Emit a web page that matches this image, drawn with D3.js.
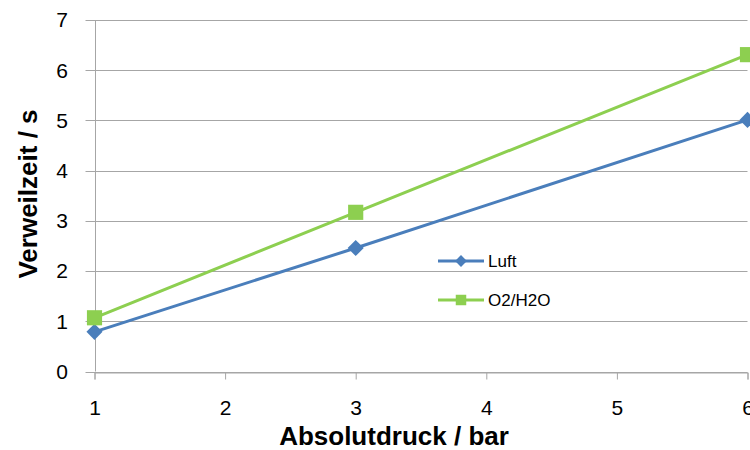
<!DOCTYPE html>
<html>
<head>
<meta charset="utf-8">
<script src="https://cdn.jsdelivr.net/npm/d3@7"></script>
<style>
  body { margin: 0; background: #fff; }
  text { font-family: 'Liberation Sans', Arial, sans-serif; fill: #000; }
</style>
</head>
<body>
<div id="chart"></div>
<script>
const pressure = [1, 3, 6]
const luft = [0.79, 2.46, 5.01]
const o2h2o = [1.07, 3.17, 6.31]
const xTicks = [1, 2, 3, 4, 5, 6]
const yTicks = [0, 1, 2, 3, 4, 5, 6, 7]

const width = 750
const height = 450
const margin = { top: 20, right: 2, bottom: 76, left: 95 }

const svg = d3.select('#chart')
  .append('svg')
  .attr('width', width)
  .attr('height', height)

const x = d3.scaleLinear().domain([1, 6]).range([margin.left - 0.5, width - margin.right - 0.5])
const y = d3.scaleLinear().domain([0, 7]).range([height - margin.bottom - 2.5, margin.top])

// Gitterlinien
svg.append('g')
  .selectAll('line')
  .data(yTicks)
  .join('line')
  .attr('x1', x(1) - 9)
  .attr('x2', x(6))
  .attr('y1', d => Math.round(y(d)) + 0.5)
  .attr('y2', d => Math.round(y(d)) + 0.5)
  .attr('stroke', '#a6a6a6')
  .attr('stroke-width', 1)

// y-Achse
svg.append('line')
  .attr('x1', Math.round(x(1)) + 0.5)
  .attr('x2', Math.round(x(1)) + 0.5)
  .attr('y1', y(7))
  .attr('y2', y(0))
  .attr('stroke', '#a6a6a6')

// x-Achse mit Ticks
const xAxis = svg.append('g')
  .attr('transform', `translate(0,${Math.round(y(0)) + 0.5})`)
  .call(d3.axisBottom(x).tickValues(xTicks).tickFormat(d3.format('d')).tickSize(7).tickPadding(21))
xAxis.select('.domain').attr('stroke', '#a6a6a6')
xAxis.selectAll('.tick line').attr('stroke', '#a6a6a6')
xAxis.selectAll('.tick text').attr('font-size', 21).attr('fill', '#000')
  .style('font-family', "'Liberation Sans', Arial, sans-serif")

// y-Beschriftung
svg.append('g')
  .selectAll('text')
  .data(yTicks)
  .join('text')
  .attr('x', 68)
  .attr('y', d => y(d))
  .attr('dy', '0.35em')
  .attr('text-anchor', 'end')
  .attr('font-size', 21)
  .text(d => d)

// Achsentitel
svg.append('text')
  .attr('x', 394)
  .attr('y', 445)
  .attr('text-anchor', 'middle')
  .attr('font-size', 26)
  .attr('font-weight', 'bold')
  .text('Absolutdruck / bar')

svg.append('text')
  .attr('transform', 'translate(37,194) rotate(-90)')
  .attr('text-anchor', 'middle')
  .attr('font-size', 26)
  .attr('font-weight', 'bold')
  .text('Verweilzeit / s')

const line = d3.line()
  .x(d => x(d[0]))
  .y(d => y(d[1]))

const series = [
  { name: 'Luft', values: luft, color: '#4a7ebb', diamond: true, size: 130 },
  { name: 'O2/H2O', values: o2h2o, color: '#8dcf50', diamond: false, size: 230 }
]

series.forEach(s => {
  const pts = pressure.map((p, i) => [p, s.values[i]])
  svg.append('path')
    .datum(pts)
    .attr('fill', 'none')
    .attr('stroke', s.color)
    .attr('stroke-width', 3)
    .attr('d', line)

  svg.append('g')
    .selectAll('path')
    .data(pts)
    .join('path')
    .attr('d', d3.symbol(d3.symbolSquare, s.size))
    .attr('transform', d => `translate(${x(d[0])},${y(d[1])})` + (s.diamond ? ' rotate(45)' : ''))
    .attr('fill', s.color)
})

// Legende
const legend = svg.append('g')
series.forEach((s, i) => {
  const ly = 261 + i * 39
  legend.append('line')
    .attr('x1', 438).attr('x2', 484)
    .attr('y1', ly).attr('y2', ly)
    .attr('stroke', s.color)
    .attr('stroke-width', 3)
  legend.append('path')
    .attr('d', d3.symbol(d3.symbolSquare, s.diamond ? 70 : 110))
    .attr('transform', `translate(461,${ly})` + (s.diamond ? ' rotate(45)' : ''))
    .attr('fill', s.color)
  legend.append('text')
    .attr('x', 488)
    .attr('y', ly)
    .attr('dy', '0.35em')
    .attr('font-size', 17)
    .text(s.name)
})
</script>
</body>
</html>
